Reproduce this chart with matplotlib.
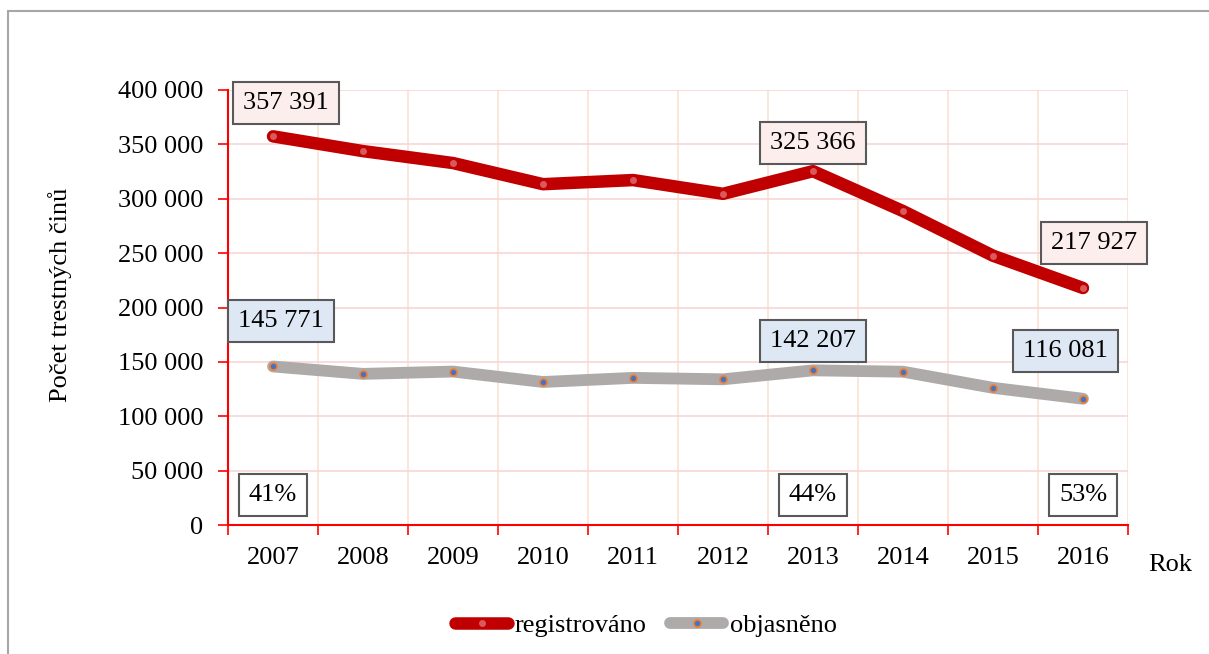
import matplotlib.pyplot as plt
import matplotlib.patches as mpatches
from matplotlib.ticker import FuncFormatter, FixedLocator

plt.rcParams['font.family'] = ['Liberation Serif', 'DejaVu Serif']

years = ['2007', '2008', '2009', '2010', '2011', '2012', '2013', '2014', '2015', '2016']
registrovano = [357391, 343799, 332829, 313387, 317177, 304528, 325366, 288660, 247628, 217927]
objasneno = [145771, 138955, 141099, 131506, 135300, 133974, 142207, 140967, 126130, 116081]
labelled = [0, 6, 9]
fs = 19

fig = plt.figure(figsize=(12.09, 6.54), dpi=100)
ax = fig.add_axes([228 / 1209, 1 - 525 / 654, 900 / 1209, 435 / 654])

x = list(range(len(years)))
ax.plot(x, registrovano, color='#C00000', lw=9, solid_capstyle='round', solid_joinstyle='round',
        marker='o', markersize=4, markerfacecolor='#D9595C', markeredgecolor='#D9595C',
        label='registrováno', zorder=3)
ax.plot(x, objasneno, color='#AEAAAA', lw=8.5, solid_capstyle='round', solid_joinstyle='round',
        marker='o', markersize=5, markerfacecolor='#4472C4', markeredgecolor='#ED7D31',
        markeredgewidth=1.2, label='objasněno', zorder=3)

ax.set_xlim(-0.5, len(years) - 0.5)
ax.set_ylim(0, 400000)
ax.set_yticks(range(0, 400001, 50000))
ax.yaxis.set_major_formatter(FuncFormatter(lambda v, p: f'{int(v):,}'.replace(',', ' ')))
ax.set_xticks(x)
ax.set_xticklabels(years)
ax.xaxis.set_minor_locator(FixedLocator([i - 0.5 for i in range(len(years) + 1)]))

ax.tick_params(axis='x', which='major', length=0, labelsize=fs, pad=16)
ax.tick_params(axis='x', which='minor', length=7, color='#FF0000', width=1.2)
ax.tick_params(axis='y', length=7, color='#FF0000', width=1.2, labelsize=fs, pad=11)

ax.grid(axis='y', which='major', color='#F8D6D6', lw=1.2, zorder=0)
ax.grid(axis='x', which='minor', color='#FBE2D5', lw=1.2, zorder=0)
for s in ['top', 'right']:
    ax.spines[s].set_visible(False)
for s in ['left', 'bottom']:
    ax.spines[s].set_color('#FF0000')
    ax.spines[s].set_linewidth(1.5)

ax.set_ylabel('Počet trestných činů', fontsize=fs)
ax.yaxis.set_label_coords(72 / 1209, 1 - 295 / 654, transform=fig.transFigure)
fig.text(1170 / 1209, 1 - 565 / 654, 'Rok', fontsize=fs, ha='center', va='center')

# value labels
reg_pos = [(0.14, 388000), (6.0, 351000), (9.12, 259000)]
obj_pos = [(0.09, 187600), (6.0, 169000), (8.81, 160000)]
for i, (rx, ry), (ox, oy) in zip(labelled, reg_pos, obj_pos):
    ax.text(rx, ry, f'{registrovano[i]:,}'.replace(',', ' '), fontsize=fs, ha='center', va='center',
            bbox=dict(boxstyle='square,pad=0.38', fc='#FDEEEE', ec='#595959', lw=1.5), zorder=5)
    ax.text(ox, oy, f'{objasneno[i]:,}'.replace(',', ' '), fontsize=fs, ha='center', va='center',
            bbox=dict(boxstyle='square,pad=0.38', fc='#DEE8F4', ec='#595959', lw=1.5), zorder=5)
    pct = round(100 * objasneno[i] / registrovano[i])
    ax.text(i, 27600, f'{pct}%', fontsize=fs, ha='center', va='center',
            bbox=dict(boxstyle='square,pad=0.38', fc='white', ec='#595959', lw=1.5), zorder=5)

fig.legend(loc='center', bbox_to_anchor=(646 / 1209, 1 - 625 / 654), ncol=2, frameon=False,
           fontsize=fs, handlelength=2.0, handletextpad=0.25, columnspacing=0.9)

fig.patches.append(mpatches.Rectangle((8 / 1209, -0.01), 1.1, 1 - 11 / 654 + 0.01,
                                      transform=fig.transFigure, fill=False, ec='#A6A6A6', lw=1.5))

fig.savefig('out.png', dpi=100)
